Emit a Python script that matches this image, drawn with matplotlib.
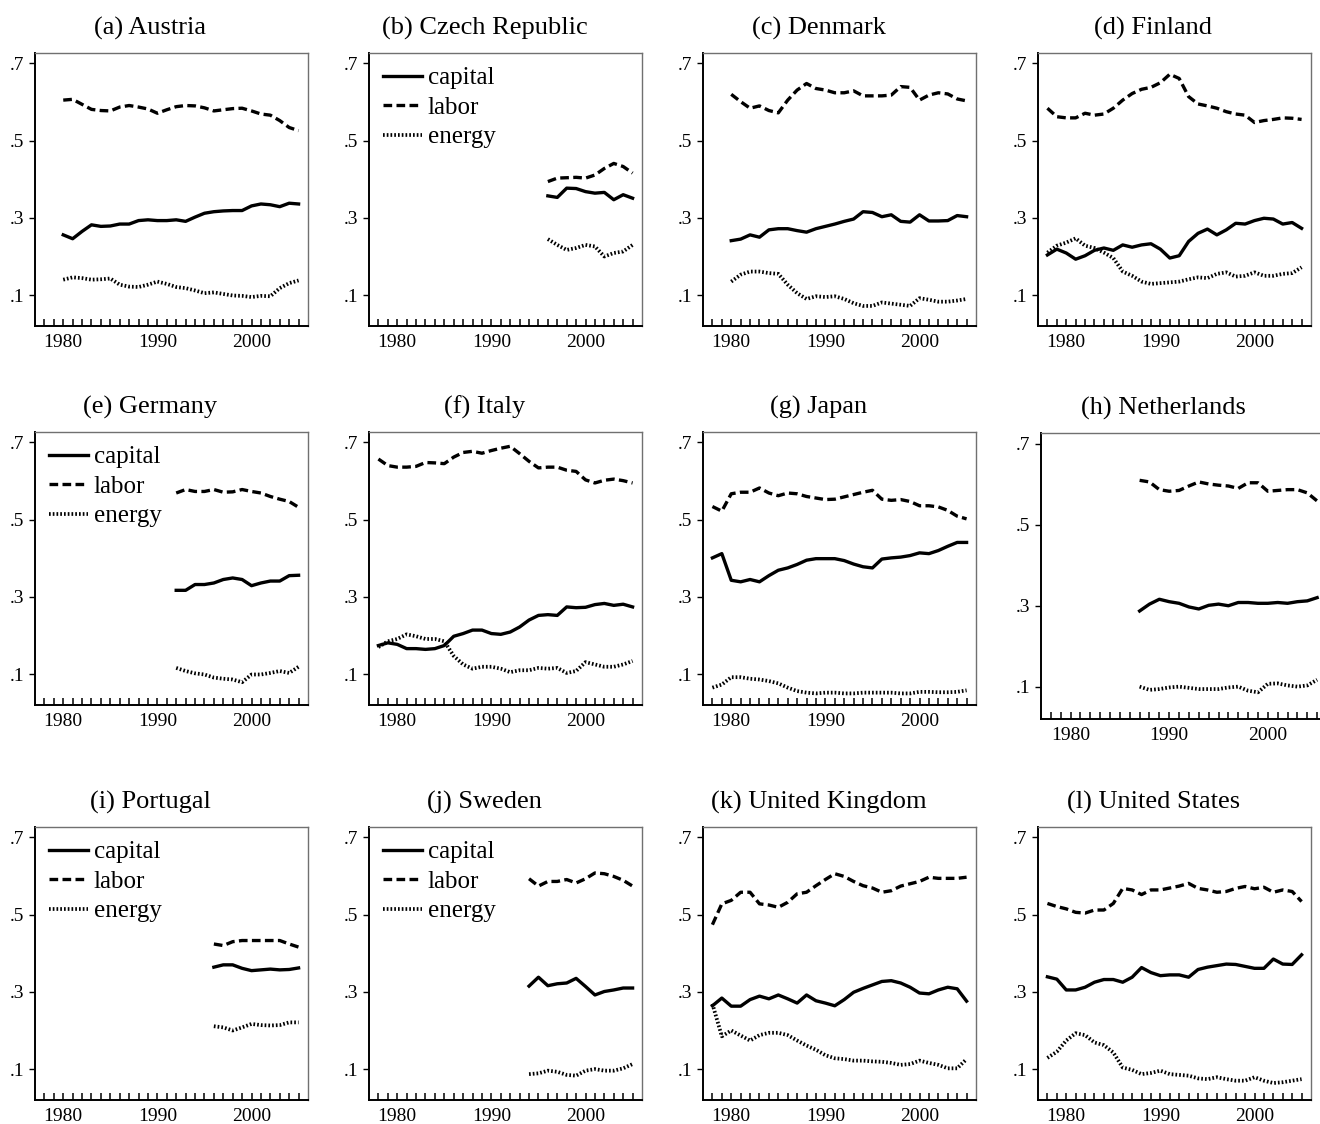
import numpy as np
import matplotlib
matplotlib.use("Agg")
import matplotlib.pyplot as plt
from matplotlib.ticker import FixedLocator

plt.rcParams['font.family'] = ['Liberation Serif', 'DejaVu Serif']

# ---- data: factor cost shares by country ----
austria_start = 1980
austria_capital = [.256, .246, .265, .282, .278, .279, .284, .284, .293, .295, .293, .293, .295,
                   .291, .302, .312, .316, .318, .319, .319, .331, .336, .334, .329, .338, .336]
austria_labor = [.605, .607, .594, .581, .578, .577, .587, .591, .587, .582, .571, .580, .588,
                 .591, .590, .585, .577, .580, .583, .584, .577, .569, .566, .552, .534, .526]
austria_energy = [.140, .146, .144, .140, .141, .143, .127, .122, .121, .127, .135, .129, .121,
                  .118, .112, .105, .107, .103, .099, .098, .095, .098, .097, .118, .131, .138]

czech_start = 1996
czech_capital = [.357, .353, .377, .376, .368, .364, .366, .347, .360, .351]
czech_labor = [.394, .403, .404, .405, .403, .411, .428, .441, .433, .416]
czech_energy = [.245, .230, .217, .222, .230, .226, .200, .209, .213, .230]

denmark_start = 1980
denmark_capital = [.241, .245, .256, .250, .269, .272, .272, .267, .263, .272, .278, .284, .291,
                   .297, .316, .314, .303, .308, .291, .289, .308, .292, .292, .293, .306, .303]
denmark_labor = [.620, .601, .584, .590, .578, .572, .605, .631, .648, .635, .631, .624, .624,
                 .629, .616, .616, .616, .618, .640, .638, .605, .618, .624, .621, .608, .603]
denmark_energy = [.135, .153, .161, .161, .157, .155, .127, .105, .090, .097, .095, .097, .090,
                  .079, .072, .072, .081, .078, .075, .072, .092, .088, .083, .083, .086, .090]

finland_start = 1978
finland_capital = [.204, .219, .209, .193, .202, .216, .222, .216, .230, .224, .230, .233, .219, .196,
                   .202, .239, .260, .271, .256, .269, .286, .284, .293, .299, .297, .284, .288, .273]
finland_labor = [.584, .562, .559, .559, .571, .566, .569, .584, .605, .622, .633, .638, .650, .672,
                 .661, .614, .595, .590, .584, .575, .569, .566, .547, .552, .555, .559, .558, .555]
finland_energy = [.210, .228, .236, .247, .228, .222, .210, .196, .161, .150, .135, .129, .131, .133,
                  .135, .141, .146, .144, .155, .159, .148, .150, .159, .150, .150, .155, .157, .172]

germany_start = 1992
germany_capital = [.317, .317, .332, .332, .336, .345, .349, .345, .329, .336, .341, .341, .355, .356]
germany_labor = [.569, .578, .573, .573, .578, .571, .572, .578, .573, .569, .560, .553, .547, .532]
germany_energy = [.116, .108, .102, .099, .091, .088, .086, .079, .099, .099, .103, .108, .103, .119]

italy_start = 1978
italy_capital = [.174, .181, .177, .166, .166, .164, .166, .174, .198, .205, .214, .214, .205, .203,
                 .209, .222, .240, .252, .254, .252, .274, .272, .273, .280, .283, .278, .281, .274]
italy_labor = [.657, .640, .636, .636, .638, .648, .647, .645, .662, .674, .677, .672, .679, .685,
               .690, .671, .651, .634, .636, .636, .628, .625, .603, .595, .602, .605, .601, .595]
italy_energy = [.170, .185, .191, .203, .198, .191, .191, .185, .147, .125, .114, .119, .119, .114,
                .105, .110, .110, .116, .114, .116, .103, .108, .131, .125, .119, .119, .125, .134]

japan_start = 1978
japan_capital = [.401, .412, .343, .339, .345, .339, .355, .369, .375, .384, .395, .399, .399, .399,
                 .394, .385, .378, .375, .398, .401, .403, .407, .414, .412, .420, .431, .441, .441]
japan_labor = [.534, .522, .567, .571, .571, .582, .569, .562, .569, .567, .560, .556, .552, .553,
               .559, .565, .571, .576, .553, .550, .552, .547, .536, .536, .533, .524, .509, .502]
japan_energy = [.065, .073, .092, .092, .088, .086, .082, .076, .065, .056, .052, .050, .052, .052,
                .050, .050, .052, .052, .052, .052, .050, .050, .054, .054, .053, .053, .054, .058]

netherlands_start = 1987
netherlands_capital = [.287, .304, .316, .310, .306, .297, .292, .301, .304, .300, .308, .308, .306,
                       .306, .308, .306, .310, .312, .320]
netherlands_labor = [.610, .606, .587, .583, .585, .596, .606, .601, .598, .596, .590, .604, .604,
                     .583, .585, .587, .587, .579, .559]
netherlands_energy = [.100, .092, .094, .098, .100, .097, .094, .094, .094, .098, .100, .090, .086,
                      .107, .108, .103, .100, .103, .117]

portugal_start = 1996
portugal_capital = [.364, .370, .370, .361, .355, .357, .359, .357, .358, .362]
portugal_labor = [.424, .420, .430, .433, .433, .433, .433, .433, .424, .416]
portugal_energy = [.211, .208, .200, .208, .217, .214, .213, .214, .221, .221]

sweden_start = 1994
sweden_capital = [.315, .338, .316, .321, .323, .335, .314, .292, .301, .305, .310, .310]
sweden_labor = [.593, .574, .586, .586, .591, .582, .593, .608, .606, .599, .589, .574]
sweden_energy = [.087, .089, .096, .093, .085, .083, .096, .100, .096, .096, .102, .113]

uk_start = 1978
uk_capital = [.264, .284, .263, .263, .280, .289, .282, .292, .282, .271, .292, .277, .271, .264,
              .280, .299, .309, .318, .327, .329, .323, .312, .297, .295, .305, .312, .308, .276]
uk_labor = [.474, .528, .537, .558, .558, .528, .525, .519, .532, .554, .558, .575, .591, .606,
            .599, .586, .575, .569, .558, .562, .574, .580, .586, .597, .594, .594, .594, .597]
uk_energy = [.269, .185, .200, .187, .174, .188, .194, .194, .188, .174, .161, .150, .136, .128,
             .126, .122, .122, .120, .119, .116, .111, .113, .122, .116, .111, .102, .102, .126]

us_start = 1978
us_capital = [.339, .333, .305, .305, .312, .325, .332, .332, .325, .338, .363, .350, .342, .344,
              .344, .338, .358, .364, .368, .372, .371, .366, .361, .361, .385, .372, .371, .396]
us_labor = [.529, .521, .515, .506, .504, .512, .512, .529, .568, .564, .552, .564, .564, .569,
            .574, .581, .568, .564, .558, .560, .568, .573, .567, .571, .558, .564, .560, .534]
us_energy = [.129, .145, .174, .193, .188, .169, .162, .143, .104, .098, .087, .090, .096, .087,
             .085, .083, .076, .074, .079, .074, .070, .070, .079, .070, .064, .066, .070, .074]

titles = ["(a) Austria", "(b) Czech Republic", "(c) Denmark", "(d) Finland",
          "(e) Germany", "(f) Italy", "(g) Japan", "(h) Netherlands",
          "(i) Portugal", "(j) Sweden", "(k) United Kingdom", "(l) United States"]
starts = [austria_start, czech_start, denmark_start, finland_start,
          germany_start, italy_start, japan_start, netherlands_start,
          portugal_start, sweden_start, uk_start, us_start]
capital = [austria_capital, czech_capital, denmark_capital, finland_capital,
           germany_capital, italy_capital, japan_capital, netherlands_capital,
           portugal_capital, sweden_capital, uk_capital, us_capital]
labor = [austria_labor, czech_labor, denmark_labor, finland_labor,
         germany_labor, italy_labor, japan_labor, netherlands_labor,
         portugal_labor, sweden_labor, uk_labor, us_labor]
energy = [austria_energy, czech_energy, denmark_energy, finland_energy,
          germany_energy, italy_energy, japan_energy, netherlands_energy,
          portugal_energy, sweden_energy, uk_energy, us_energy]
with_legend = [1, 4, 8, 9]

# ---- layout (pixels) ----
W, H = 1320, 1124
fig = plt.figure(figsize=(W / 100, H / 100), dpi=100)
col_left = [35, 369, 703, 1038]
row_top = [53, 432, 827]
size = 273

for i, title in enumerate(titles):
    r, c = divmod(i, 4)
    left, top, w, h = col_left[c], row_top[r], size, size
    if title.endswith("Netherlands"):
        # this panel is drawn a bit larger and runs off the right edge
        left, top, w, h = 1041, 433, 286, 286
    ax = fig.add_axes([left / W, 1 - (top + h) / H, w / W, h / H])

    yrs = np.arange(starts[i], starts[i] + len(capital[i]))
    ax.plot(yrs, capital[i], color="black", lw=2.4, solid_joinstyle="round",
            label="capital")
    ax.plot(yrs, labor[i], color="black", lw=2.4, linestyle=(0, (2.6, 1.3)),
            label="labor")
    ax.plot(yrs, energy[i], color="black", lw=2.7, linestyle=(0, (0.45, 0.55)),
            label="energy")

    ax.set_xlim(1977, 2006)
    ax.set_ylim(0.02, 0.727)
    ax.set_yticks([.1, .3, .5, .7])
    ax.set_yticklabels([".1", ".3", ".5", ".7"])
    ax.set_xticks([1980, 1990, 2000])
    ax.xaxis.set_minor_locator(FixedLocator(list(range(1978, 2006))))
    ax.tick_params(axis="x", which="both", direction="in", length=5, width=1.1,
                   labelsize=14, pad=6)
    ax.tick_params(axis="y", direction="out", length=4, width=1.0,
                   labelsize=14, pad=4)
    for s in ["left", "bottom"]:
        ax.spines[s].set_linewidth(1.4)
        ax.spines[s].set_color("black")
    for s in ["top", "right"]:
        ax.spines[s].set_linewidth(1.0)
        ax.spines[s].set_color("#707070")

    if i in with_legend:
        ax.legend(loc="upper left", frameon=False, fontsize=18, handlelength=1.55,
                  handletextpad=0.25, labelspacing=0.28, borderaxespad=0.3,
                  borderpad=0.25)

    fig.text((left + w / 2 - 21) / W, 1 - (top - 25) / H, title, fontsize=19,
             ha="center", va="center")

fig.savefig("out.png", dpi=100)
